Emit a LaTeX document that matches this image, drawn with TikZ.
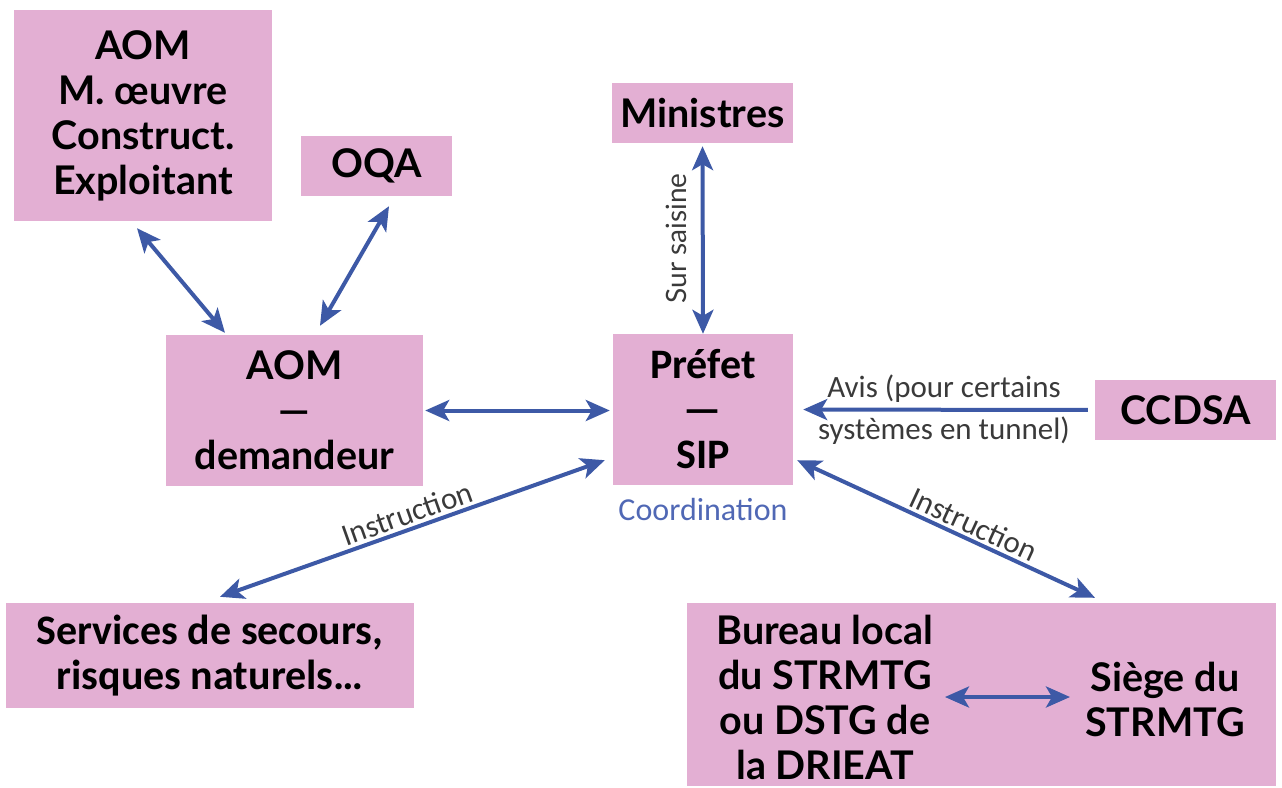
\documentclass[tikz,border=0pt]{standalone}
\usepackage{fontspec}
\setmainfont{Lato}
\newfontfamily\cali{Carlito}
\usetikzlibrary{positioning,arrows.meta}
\definecolor{rose}{HTML}{E3AFD3}
\definecolor{fleche}{HTML}{3D59A6}
\definecolor{bleucoord}{HTML}{5068B5}
\definecolor{gris}{HTML}{3A3A3A}

\begin{document}
\begin{tikzpicture}[x=1pt,y=-1pt,
  >={Stealth[length=24pt,width=21pt,inset=6pt]},
  boite/.style={fill=rose,inner sep=0pt,align=center,font=\fontsize{39.5}{45}\selectfont\bfseries},
  boitec/.style={boite,font=\cali\fontsize{42}{45}\selectfont\bfseries},
  lien/.style={fleche,line width=4pt},
  etiq/.style={gris,inner sep=3pt,font=\cali\fontsize{31}{42}\selectfont}]
\useasboundingbox (0,0) rectangle (1282,787);

\node[boite,minimum width=258pt,minimum height=211pt] (aom) at (143,115.5) {AOM\\M. œuvre\\Construct.\\Exploitant};
\node[boite,minimum width=151pt,minimum height=60pt] (oqa) at (376.5,166) {OQA};
\node[boite,minimum width=181pt,minimum height=60pt] (min) at (702.5,113) {Ministres};
\node[boite,minimum width=257pt,minimum height=151pt] (dem) at (294.5,410.5) {AOM\\—\\demandeur};
\node[boitec,minimum width=180pt,minimum height=151pt] (pref) at (703,409.5) {Préfet\\—\\SIP};
\node[boite,minimum width=181pt,minimum height=60pt] (ccdsa) at (1185.5,410) {CCDSA};
\node[boitec,minimum width=408pt,minimum height=105pt] (secours) at (210,655.5) {Services de secours,\\risques naturels…};
\node[boite,minimum width=589pt,minimum height=183pt] (bur) at (981.5,694.5) {};
\node[boite,fill=none] (local) at (825,697) {Bureau local\\du STRMTG\\ou DSTG de\\la DRIEAT};
\node[boite,fill=none] (siege) at (1165,699.5) {Siège du\\STRMTG};
\node[etiq,bleucoord,below=10pt of pref,font=\cali\fontsize{32}{40}\selectfont] (coord) {Coordination};

\draw[lien,<->] ([shift={(-6,7)}]aom.south) -- ([shift={(-69.5,-2)}]dem.north);
\draw[lien,<->] ([shift={(12.5,10)}]oqa.south) -- ([shift={(25.5,-9)}]dem.north);
\draw[lien,<->,shorten <=3pt] (min.south) -- node[etiq,rotate=90,anchor=south,inner sep=14pt,font=\fontsize{28}{32}\selectfont]{Sur saisine} (pref.north);
\draw[lien,<->,shorten <=2pt,shorten >=3pt] (dem.east) -- (dem.east -| pref.west);
\draw[lien,<-,shorten <=10pt,shorten >=7pt] (pref.east) -- node[etiq,align=center]{Avis (pour certains\\systèmes en tunnel)} (ccdsa.west);
\draw[lien,<->] ([shift={(10,-6)}]secours.north) -- node[etiq,sloped,above]{Instruction} ([shift={(-8,-25)}]pref.south west);
\draw[lien,<->] ([shift={(4,-25)}]pref.south east) -- node[etiq,sloped,above,pos=0.57]{Instruction} ([shift={(113.5,-5)}]bur.north);
\draw[lien,<->] ([shift={(-36.5,2.5)}]bur.center) -- ([shift={(88.5,2.5)}]bur.center);
\end{tikzpicture}
\end{document}
